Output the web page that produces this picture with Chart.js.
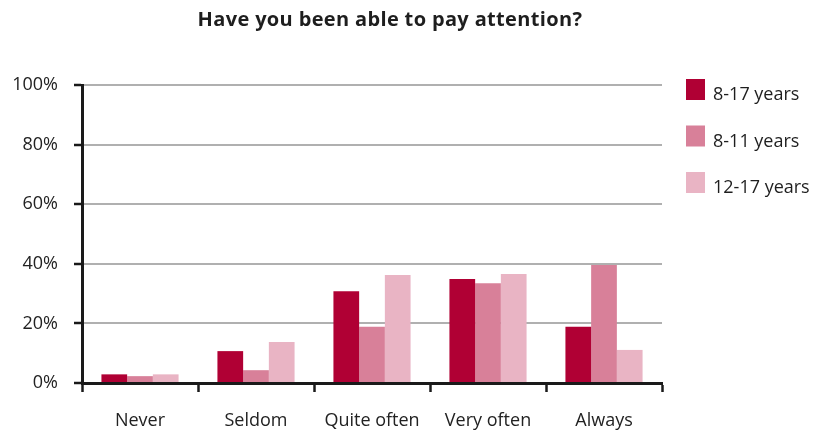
<!DOCTYPE html>
<html>
<head>
<meta charset="utf-8">
<script src="https://cdn.jsdelivr.net/npm/chart.js@4"></script>
<style>
  html, body { margin: 0; padding: 0; background: #ffffff; }
  #wrap { width: 817px; height: 433px; position: relative; }
</style>
</head>
<body>
<div id="wrap"><canvas id="chart" width="817" height="433"></canvas></div>
<script>
// Survey answers, share of respondents (%)
const categories = ['Never', 'Seldom', 'Quite often', 'Very often', 'Always'];
const seriesNames = ['8-17 years', '8-11 years', '12-17 years'];
const ages8to17 = [2.9, 10.7, 30.8, 34.9, 18.9];
const ages8to11 = [2.3, 4.3, 18.9, 33.5, 39.6];
const ages12to17 = [2.9, 13.8, 36.2, 36.6, 11.1];
const yTicks = [0, 20, 40, 60, 80, 100];

const colors = ['#b00034', '#d88099', '#e9b4c4'];
const titleText = 'Have you been able to pay attention?';
const FONT = '"Open Sans", Lato, sans-serif';

// Title and side legend drawn directly on the canvas
const decorations = {
  id: 'decorations',
  afterDraw(chart) {
    const ctx = chart.ctx;
    ctx.save();
    ctx.fillStyle = '#1e1e1e';
    ctx.font = 'bold 20px ' + FONT;
    ctx.letterSpacing = '0.35px';
    ctx.textAlign = 'center';
    ctx.textBaseline = 'middle';
    ctx.fillText(titleText, 390, 20);

    ctx.letterSpacing = '0px';
    ctx.font = '18px ' + FONT;
    ctx.textAlign = 'left';
    ctx.textBaseline = 'alphabetic';
    chart.data.datasets.forEach((ds, i) => {
      const y = 79 + i * 46.5;
      ctx.fillStyle = ds.backgroundColor;
      ctx.fillRect(686, y, 19, 21);
      ctx.fillStyle = '#1e1e1e';
      ctx.fillText(ds.label, 713, y + 21);
    });
    ctx.restore();
  }
};

new Chart(document.getElementById('chart'), {
  type: 'bar',
  data: {
    labels: categories,
    datasets: [
      { label: seriesNames[0], data: ages8to17, backgroundColor: colors[0] },
      { label: seriesNames[1], data: ages8to11, backgroundColor: colors[1] },
      { label: seriesNames[2], data: ages12to17, backgroundColor: colors[2] }
    ]
  },
  options: {
    responsive: false,
    animation: false,
    layout: { padding: { top: 85, right: 155, bottom: 0, left: 0 } },
    datasets: { bar: { categoryPercentage: 0.665, barPercentage: 1.0 } },
    plugins: {
      legend: { display: false },
      title: { display: false },
      tooltip: { enabled: false }
    },
    scales: {
      x: {
        afterFit(scale) { scale.height = 50; },
        border: { display: true, color: '#1a1a1a', width: 3 },
        grid: {
          offset: true,
          drawOnChartArea: false,
          drawTicks: true,
          tickLength: 9,
          tickColor: '#1a1a1a',
          tickWidth: 2.5
        },
        ticks: {
          color: '#222222',
          font: { family: FONT, size: 18 },
          padding: 18
        }
      },
      y: {
        min: 0,
        max: 100,
        afterFit(scale) { scale.width = 82; },
        afterBuildTicks(scale) { scale.ticks = yTicks.map(v => ({ value: v })); },
        border: { display: true, color: '#1a1a1a', width: 3 },
        grid: {
          color: '#b0b0b0',
          lineWidth: 2,
          drawTicks: true,
          tickLength: 8,
          tickColor: '#1a1a1a',
          tickWidth: 2.5
        },
        ticks: {
          color: '#222222',
          font: { family: FONT, size: 18 },
          padding: 16,
          callback: v => v + '%'
        }
      }
    }
  },
  plugins: [decorations]
});
</script>
</body>
</html>
